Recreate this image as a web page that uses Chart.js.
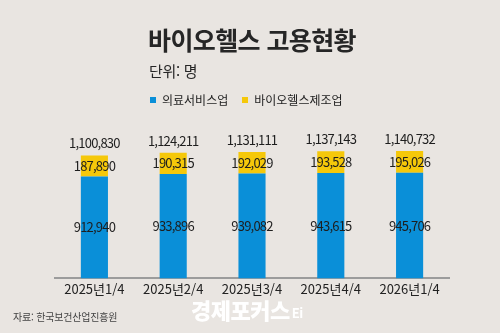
<!DOCTYPE html>
<html lang="ko">
<head>
<meta charset="utf-8">
<script src="https://cdn.jsdelivr.net/npm/chart.js@4/dist/chart.umd.min.js"></script>
<style>
  html, body { margin: 0; padding: 0; background: #e9e5e1; }
  #wrap { position: relative; width: 500px; height: 333px; overflow: hidden; background: #e9e5e1; font-family: "Noto Sans CJK KR", "Noto Sans", sans-serif; }
  #chartBox { position: absolute; left: 0; top: 0; width: 500px; height: 333px; }
  .t { position: absolute; white-space: nowrap; color: #222; }
  #title { left: 148px; top: 27px; font-size: 25px; font-weight: 700; letter-spacing: -0.6px; line-height: 1; color: #262626; }
  #unit { left: 149px; top: 63px; font-size: 15px; line-height: 1; letter-spacing: -0.3px; color: #262626; }
  #legend { left: 150px; top: 94px; font-size: 12px; line-height: 1; color: #222; }
  #legend span.sw { display: inline-block; width: 6px; height: 6px; margin-right: 6px; vertical-align: 2px; }
  #source { left: 13px; top: 312px; font-size: 10px; line-height: 1; color: #444; letter-spacing: -0.2px; }
  #wm { left: 191px; top: 298px; font-size: 22px; font-weight: 900; line-height: 1; color: #ffffff; letter-spacing: -0.5px; }
  #wm .logo { font-size: 13px; font-weight: 700; vertical-align: 1px; margin-left: 2px; }
</style>
</head>
<body>
<div id="wrap">
  <div id="chartBox"><canvas id="c" width="500" height="333"></canvas></div>
  <div class="t" id="title">바이오헬스 고용현황</div>
  <div class="t" id="unit">단위: 명</div>
  <div class="t" id="legend"><span class="sw" style="background:#0a8fd8"></span>의료서비스업<span style="display:inline-block;width:14px"></span><span class="sw" style="background:#f5c80a"></span>바이오헬스제조업</div>
  <div class="t" id="source">자료: 한국보건산업진흥원</div>
  <div class="t" id="wm">경제포커스<span class="logo">Ei</span></div>
</div>
<script>
const categories = ["2025년1/4", "2025년2/4", "2025년3/4", "2025년4/4", "2026년1/4"];
const medicalService = [912940, 933896, 939082, 943615, 945706];
const bioManufacturing = [187890, 190315, 192029, 193528, 195026];
const totals = [1100830, 1124211, 1131111, 1137143, 1140732];

const fmt = v => v.toLocaleString("en-US");

const labelPlugin = {
  id: "barLabels",
  afterDatasetsDraw(chart) {
    const ctx = chart.ctx;
    ctx.save();
    ctx.font = '400 13px "Noto Sans CJK KR", "Noto Sans", sans-serif';
    if ('letterSpacing' in ctx) ctx.letterSpacing = '-0.8px';
    ctx.fillStyle = '#1e1e1e';
    ctx.textAlign = 'center';
    ctx.textBaseline = 'middle';
    const m0 = chart.getDatasetMeta(0);
    const m1 = chart.getDatasetMeta(1);
    m0.data.forEach((bar, i) => {
      const p = bar.getProps(['x', 'y', 'base'], true);
      ctx.fillText(fmt(medicalService[i]), p.x, (p.y + p.base) / 2);
    });
    m1.data.forEach((bar, i) => {
      const p = bar.getProps(['x', 'y', 'base'], true);
      ctx.fillText(fmt(bioManufacturing[i]), p.x, (p.y + p.base) / 2);
      ctx.fillText(fmt(totals[i]), p.x, p.y - 12);
    });
    ctx.restore();
  }
};

new Chart(document.getElementById("c"), {
  type: "bar",
  data: {
    labels: categories,
    datasets: [
      { label: "의료서비스업", data: medicalService, backgroundColor: "#0a8fd8", borderWidth: 0 },
      { label: "바이오헬스제조업", data: bioManufacturing, backgroundColor: "#f5c80a", borderWidth: 0 }
    ]
  },
  options: {
    responsive: false,
    animation: false,
    events: [],
    datasets: { bar: { barPercentage: 0.43, categoryPercentage: 0.8 } },
    layout: { padding: { left: 55, right: 51, top: 122, bottom: 33 } },
    plugins: { legend: { display: false }, tooltip: { enabled: false }, title: { display: false } },
    scales: {
      x: {
        stacked: true,
        grid: { display: false, drawTicks: false },
        border: { display: true, color: "#9c9c9c", width: 2 },
        ticks: { color: "#222", padding: 3, font: { family: '"Noto Sans CJK KR", "Noto Sans", sans-serif', size: 13 } }
      },
      y: {
        stacked: true,
        display: false,
        min: 0,
        max: 1400000
      }
    }
  },
  plugins: [labelPlugin]
});
</script>
</body>
</html>
